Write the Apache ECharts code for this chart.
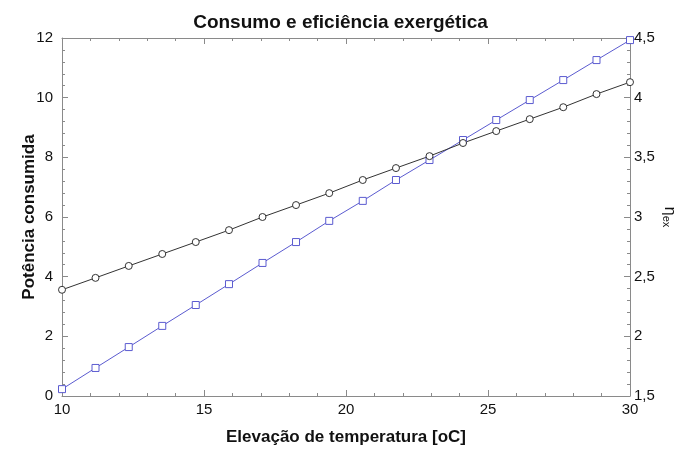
<!DOCTYPE html>
<html><head><meta charset="utf-8">
<script src="https://cdn.jsdelivr.net/npm/echarts@6/dist/echarts.min.js"></script>
<style>html,body{margin:0;padding:0;background:#fff}#c{width:681px;height:450px}</style>
</head><body><div id="c"></div>
<script>
var xValues = [10, 11.18, 12.35, 13.53, 14.71, 15.88, 17.06, 18.24, 19.41, 20.59, 21.76, 22.94, 24.12, 25.29, 26.47, 27.65, 28.82, 30];
var potencia = [0.23, 0.94, 1.64, 2.35, 3.05, 3.75, 4.46, 5.16, 5.87, 6.54, 7.24, 7.91, 8.58, 9.25, 9.92, 10.59, 11.26, 11.93];
var etaEx = [2.39, 2.49, 2.59, 2.69, 2.79, 2.89, 3.00, 3.10, 3.20, 3.31, 3.41, 3.51, 3.62, 3.72, 3.82, 3.92, 4.03, 4.13];
var titleText = 'Consumo e eficiência exergética';
var xName = 'Elevação de temperatura [oC]';
var yLeftName = 'Potência consumida';

function pairs(xs, ys){ return xs.map(function(x,i){return [x, ys[i]];}); }
var FONT = '"Liberation Sans", Arial, sans-serif';
var axisCol = '#8a8a8a';
function comma(v){ return String(v).replace('.', ','); }
var chart = echarts.init(document.getElementById('c'), null, {renderer:'canvas'});
chart.setOption({
  animation:false,
  backgroundColor:'#fff',
  title:{text:titleText, left:'center', top:8, textStyle:{fontFamily:FONT, fontSize:19, fontWeight:'bold', color:'#111'}},
  grid:{left:62, right:51, top:38, bottom:54, containLabel:false, outerBoundsMode:'none'},
  xAxis:[
    {type:'value', min:10, max:30, interval:5, position:'bottom',
     name:xName, nameLocation:'middle', nameGap:33, nameMoveOverlap:false,
     nameTextStyle:{fontFamily:FONT, fontSize:17, fontWeight:'bold', color:'#111'},
     axisLine:{lineStyle:{color:axisCol}}, axisTick:{inside:true, length:6, lineStyle:{color:axisCol}},
     minorTick:{show:true, splitNumber:5, length:3, lineStyle:{color:axisCol}},
     splitLine:{show:false}, axisLabel:{fontFamily:FONT, fontSize:15, color:'#111', margin:6}},
    {type:'value', min:10, max:30, interval:5, position:'top',
     axisLine:{lineStyle:{color:axisCol}}, axisTick:{inside:true, length:6, lineStyle:{color:axisCol}},
     minorTick:{show:true, splitNumber:5, length:3, lineStyle:{color:axisCol}},
     splitLine:{show:false}, axisLabel:{show:false}}
  ],
  yAxis:[
    {type:'value', min:0, max:12, interval:2, position:'left',
     name:yLeftName, nameLocation:'middle', nameGap:24, nameRotate:90, nameMoveOverlap:false,
     nameTextStyle:{fontFamily:FONT, fontSize:17, fontWeight:'bold', color:'#111'},
     axisLine:{show:true, lineStyle:{color:axisCol}}, axisTick:{show:true, inside:true, length:6, lineStyle:{color:axisCol}},
     minorTick:{show:true, splitNumber:5, length:3, lineStyle:{color:axisCol}},
     splitLine:{show:false}, axisLabel:{fontFamily:FONT, fontSize:15, color:'#111', margin:9}},
    {type:'value', min:1.5, max:4.5, interval:0.5, position:'right',
     name:'{e|η}{s|ex}', nameLocation:'middle', nameGap:31, nameRotate:-90, nameMoveOverlap:false,
     nameTextStyle:{rich:{e:{fontFamily:FONT, fontSize:16, color:'#111'}, s:{fontFamily:FONT, fontSize:11, color:'#111', verticalAlign:'bottom', padding:[6,0,0,0]}}},
     axisLine:{show:true, lineStyle:{color:axisCol}}, axisTick:{show:true, inside:true, length:6, lineStyle:{color:axisCol}},
     minorTick:{show:true, splitNumber:5, length:3, lineStyle:{color:axisCol}},
     splitLine:{show:false}, axisLabel:{fontFamily:FONT, fontSize:15, color:'#111', margin:4, formatter:comma}}
  ],
  series:[
    {type:'line', name:yLeftName, xAxisIndex:0, yAxisIndex:0, data:pairs(xValues, potencia),
     symbol:'rect', symbolSize:7, showAllSymbol:true,
     lineStyle:{color:'#5b5bd0', width:1}, itemStyle:{color:'#fff', borderColor:'#5b5bd0', borderWidth:1}},
    {type:'line', name:'η', xAxisIndex:0, yAxisIndex:1, data:pairs(xValues, etaEx),
     symbol:'circle', symbolSize:7, showAllSymbol:true,
     lineStyle:{color:'#333', width:1}, itemStyle:{color:'#fff', borderColor:'#333', borderWidth:1}}
  ]
});
</script></body></html>
